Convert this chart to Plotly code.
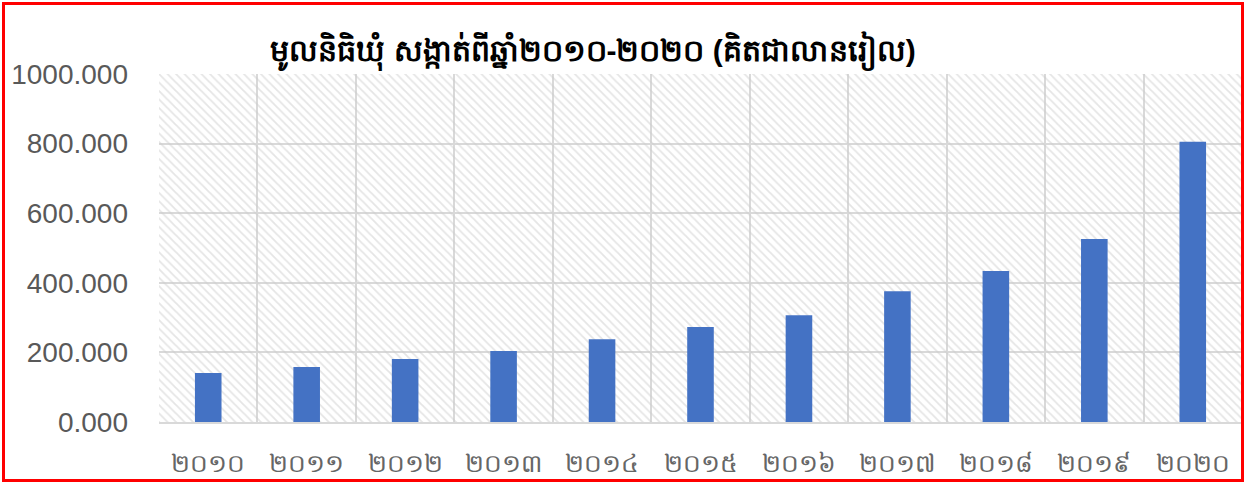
import plotly.graph_objects as go

# ---- data ----
years = ["២០១០", "២០១១", "២០១២", "២០១៣", "២០១៤", "២០១៥",
         "២០១៦", "២០១៧", "២០១៨", "២០១៩", "២០២០"]
fund = [141, 158, 181, 204, 238, 273, 307, 376, 434, 526, 805]
y_ticks = [0, 200, 400, 600, 800, 1000]
title_text = "មូលនិធិឃុំ សង្កាត់ពីឆ្នាំ២០១០-២០២០ (គិតជាលានរៀល)"
Y_MAX = 1000

W, H = 1245, 483
L, R, T, B = 159, 3, 74, 61
pw = W - L - R
ph = H - T - B

def px2x(px):
    return (px - L) / pw

def py2y(py):
    return (H - B - py) / ph

fig = go.Figure()

# hatched plot background
fig.add_trace(go.Bar(
    x=years, y=[Y_MAX] * len(years), width=1,
    marker=dict(color="rgba(0,0,0,0)", line=dict(width=0),
                pattern=dict(shape="\\", fgcolor="#cccccc", bgcolor="rgba(0,0,0,0)",
                             size=6, solidity=0.3, fillmode="overlay")),
    hoverinfo="skip", showlegend=False,
))

fig.add_trace(go.Bar(
    x=years, y=fund, width=0.27,
    marker=dict(color="#4472C4", line=dict(width=0)),
    showlegend=False,
))

fig.update_layout(
    width=W, height=H,
    margin=dict(l=L, r=R, t=T, b=B),
    paper_bgcolor="white", plot_bgcolor="white",
    barmode="overlay",
    font=dict(family="Liberation Sans, Arial, sans-serif", color="#595959"),
    title=dict(text="<b>" + title_text + "</b>", x=593 / W, xref="container", xanchor="center",
               y=1 - 50 / H, yref="container", yanchor="middle",
               font=dict(size=30, color="black")),
    xaxis=dict(type="category", tickson="boundaries", showgrid=True,
               gridcolor="#d9d9d9", gridwidth=2, ticks="", showline=True,
               linecolor="#d9d9d9", linewidth=2,
               tickfont=dict(size=25, color="#666666"), ticklabelstandoff=18,
               range=[-0.5, len(years) - 0.5]),
    yaxis=dict(range=[0, Y_MAX], tickvals=y_ticks, tickformat=".3f",
               showgrid=True, gridcolor="#d9d9d9", gridwidth=2,
               zeroline=False, ticks="", tickfont=dict(size=28, color="#595959"),
               ticklabelstandoff=30),
    shapes=[dict(type="rect", xref="paper", yref="paper",
                 x0=px2x(3.5), x1=px2x(1242.5), y0=py2y(480.5), y1=py2y(3.5),
                 line=dict(color="#ff0000", width=3), layer="above")],
)

fig.write_html("out.html", config={"displayModeBar": False},
               post_script="document.body.style.margin='0';document.body.style.overflow='hidden';")
